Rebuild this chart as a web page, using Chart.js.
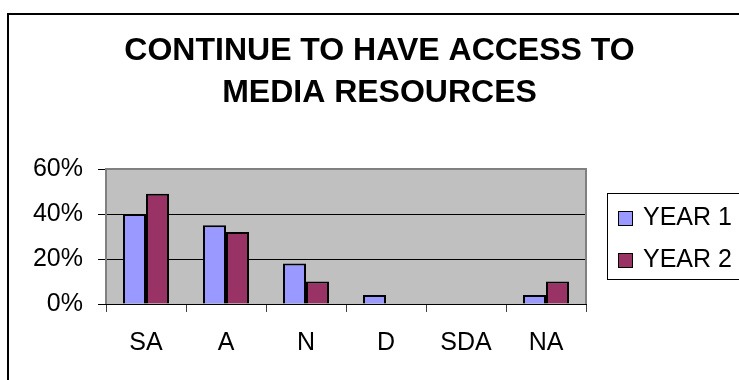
<!DOCTYPE html>
<html>
<head>
<meta charset="utf-8">
<script src="https://cdn.jsdelivr.net/npm/chart.js@4/dist/chart.umd.min.js"></script>
<style>
html,body{margin:0;padding:0;background:#fff;}
#wrap{width:739px;height:380px;position:relative;}
</style>
</head>
<body>
<div id="wrap"><canvas id="c" width="739" height="380"></canvas></div>
<script>
const categories = ['SA', 'A', 'N', 'D', 'SDA', 'NA'];
const year1 = [40, 35, 18, 4, 0, 4];
const year2 = [49, 32, 10, 0, 0, 10];
const seriesNames = ['YEAR 1', 'YEAR 2'];
const yTicks = [0, 20, 40, 60];
const titleLines = ['CONTINUE TO HAVE ACCESS TO', 'MEDIA RESOURCES'];

const FONT = '"Liberation Sans", Arial, sans-serif';
const colors = ['#9999FF', '#993366'];

const bgPlugin = {
  id: 'bgPlugin',
  afterLayout(chart) {
    const t = chart.titleBlock;
    if (t) { t.left = 20; t.right = 739; t.width = 719; }
  },
  beforeDraw(chart) {
    const ctx = chart.ctx, a = chart.chartArea;
    ctx.save();
    ctx.fillStyle = '#fff';
    ctx.fillRect(0, 0, chart.width, chart.height);
    ctx.fillStyle = '#C0C0C0';
    ctx.fillRect(a.left, a.top, a.right - a.left, a.bottom - a.top);
    ctx.restore();
  },
  afterDraw(chart) {
    const ctx = chart.ctx, a = chart.chartArea;
    ctx.save();
    ctx.strokeStyle = '#808080';
    ctx.lineWidth = 2;
    ctx.beginPath();
    ctx.moveTo(a.left, a.bottom);
    ctx.lineTo(a.left, a.top);
    ctx.lineTo(a.right, a.top);
    ctx.lineTo(a.right, a.bottom);
    ctx.stroke();
    ctx.strokeStyle = '#000';
    ctx.lineWidth = 2;
    ctx.strokeRect(8, 14, 800, 420);
    ctx.lineWidth = 1;
    ctx.strokeRect(607.5, 193.5, 200, 86);
    const ds = chart.data.datasets;
    const rows = [211, 253];
    ds.forEach((d, i) => {
      const y = rows[i];
      ctx.fillStyle = d.backgroundColor;
      ctx.fillRect(618, y, 14, 14);
      ctx.strokeStyle = '#000';
      ctx.lineWidth = 1;
      ctx.strokeRect(618.5, y + 0.5, 14, 14);
      ctx.fillStyle = '#000';
      ctx.font = '25px ' + FONT;
      ctx.textBaseline = 'alphabetic';
      ctx.textAlign = 'left';
      ctx.fillText(d.label, 643, y + 13.5);
    });
    ctx.restore();
  }
};

new Chart(document.getElementById('c'), {
  type: 'bar',
  data: {
    labels: categories,
    datasets: [
      { label: seriesNames[0], data: year1, backgroundColor: colors[0], borderColor: '#000', borderWidth: 2, borderSkipped: 'bottom' },
      { label: seriesNames[1], data: year2, backgroundColor: colors[1], borderColor: '#000', borderWidth: 2, borderSkipped: 'bottom' }
    ]
  },
  options: {
    responsive: false,
    animation: false,
    devicePixelRatio: 1,
    layout: { padding: { left: 0, right: 153, top: 0, bottom: 0 } },
    datasets: { bar: { categoryPercentage: 0.575, barPercentage: 1 } },
    plugins: {
      legend: { display: false },
      tooltip: { enabled: false },
      title: {
        display: true,
        text: titleLines,
        color: '#000',
        font: { family: FONT, size: 32, weight: 'bold', lineHeight: 1.3 },
        padding: { top: 30.5, bottom: 55.3 }
      }
    },
    scales: {
      x: {
        afterFit(s) { s.height = 76; },
        grid: { drawOnChartArea: false, drawTicks: true, tickLength: 8, tickColor: '#404040', offset: true },
        border: { display: true, color: '#000', width: 1 },
        ticks: { color: '#000', font: { family: FONT, size: 25 }, padding: 16 }
      },
      y: {
        min: 0, max: 60,
        afterFit(s) { s.width = 106; },
        afterBuildTicks(s) { s.ticks = yTicks.map(v => ({ value: v })); },
        grid: { color: '#000', lineWidth: 1, drawTicks: true, tickLength: 8, tickColor: '#000' },
        border: { display: false },
        ticks: { color: '#000', font: { family: FONT, size: 25 }, padding: 15, callback: v => v + '%' }
      }
    }
  },
  plugins: [bgPlugin]
});
</script>
</body>
</html>
